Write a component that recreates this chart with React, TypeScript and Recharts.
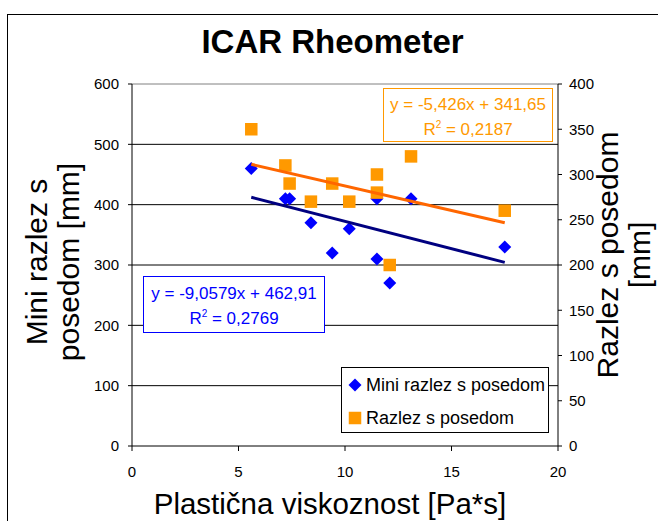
import React from "react";
import {
  ScatterChart,
  Scatter,
  XAxis,
  YAxis,
  CartesianGrid,
  ReferenceLine,
} from "recharts";

// Plastična viskoznost [Pa*s]
const miniX = [5.6, 7.2, 7.4, 8.4, 9.4, 10.2, 11.5, 11.5, 12.1, 13.1, 17.5];
// Mini razlez s posedom [mm] (left axis)
const miniY = [460, 410, 410, 370, 320, 360, 310, 410, 270, 410, 330];

const razlezX = [5.6, 7.2, 7.4, 8.4, 9.4, 10.2, 11.5, 11.5, 12.1, 13.1, 17.5];
// Razlez s posedom [mm] (right axis)
const razlezY = [350, 310, 290, 270, 290, 270, 300, 280, 200, 320, 260];

// trend line coefficients as printed on the chart
const miniSlope = -9.0579;
const miniIntercept = 462.91;
const razlezSlope = -5.426;
const razlezIntercept = 341.65;

const xTicks = [0, 5, 10, 15, 20];
const leftTicks = [0, 100, 200, 300, 400, 500, 600];
const rightTicks = [0, 50, 100, 150, 200, 250, 300, 350, 400];

const FONT = "'Liberation Sans', Arial, sans-serif";

const miniData = miniX.map((x, i) => ({ x, y: miniY[i] }));
const razlezData = razlezX.map((x, i) => ({ x, y: razlezY[i] }));

const trend = (xs: number[], m: number, b: number) => {
  const lo = Math.min(...xs);
  const hi = Math.max(...xs);
  return [
    { x: lo, y: m * lo + b },
    { x: hi, y: m * hi + b },
  ];
};

const miniTrend = trend(miniX, miniSlope, miniIntercept);
const razlezTrend = trend(razlezX, razlezSlope, razlezIntercept);

const Diamond = (props: any) => {
  const { cx, cy } = props;
  const r = 6.5;
  return (
    <polygon
      points={`${cx},${cy - r} ${cx + r},${cy} ${cx},${cy + r} ${cx - r},${cy}`}
      fill="#0000FF"
    />
  );
};

const Square = (props: any) => {
  const { cx, cy } = props;
  const s = 12.5;
  return <rect x={cx - s / 2} y={cy - s / 2} width={s} height={s} fill="#FF9900" />;
};

const NoDot = () => null;

const tickStyle = { fontSize: 15, fill: "#000", fontFamily: FONT };

export default function App() {
  return (
    <div
      style={{
        position: "absolute",
        left: 0,
        top: 0,
        width: 658,
        height: 521,
        overflow: "hidden",
        background: "#fff",
        fontFamily: FONT,
      }}
    >
      {/* outer chart frame */}
      <div
        style={{
          position: "absolute",
          left: 7,
          top: 14,
          width: 700,
          height: 600,
          borderLeft: "1.5px solid #000",
          borderTop: "1.5px solid #000",
        }}
      />

      <ScatterChart
        width={658}
        height={521}
        margin={{ top: 84, right: 0, bottom: 0, left: 0 }}
        style={{ position: "absolute", left: 0, top: 0 }}
      >
        <CartesianGrid
          yAxisId="left"
          vertical={false}
          stroke="#000"
          horizontalValues={[100, 200, 300, 400, 500]}
        />
        <ReferenceLine yAxisId="left" y={600} stroke="#808080" />
        <XAxis
          type="number"
          dataKey="x"
          domain={[0, 20]}
          ticks={xTicks}
          height={75}
          tick={tickStyle}
          tickSize={5}
          tickMargin={15}
          stroke="#000"
          allowDataOverflow
        />
        <YAxis
          yAxisId="left"
          type="number"
          dataKey="y"
          domain={[0, 600]}
          ticks={leftTicks}
          width={132}
          tick={tickStyle}
          tickSize={4}
          tickMargin={9}
          stroke="#000"
        />
        <YAxis
          yAxisId="right"
          orientation="right"
          type="number"
          dataKey="y"
          domain={[0, 400]}
          ticks={rightTicks}
          width={100}
          tick={{ ...tickStyle, textAnchor: "start" }}
          tickSize={4}
          tickMargin={7}
          stroke="#000"
        />
        <Scatter
          yAxisId="left"
          name="Mini razlez s posedom"
          data={miniData}
          shape={<Diamond />}
          isAnimationActive={false}
        />
        <Scatter
          yAxisId="right"
          name="Razlez s posedom"
          data={razlezData}
          shape={<Square />}
          isAnimationActive={false}
        />
        <Scatter
          yAxisId="left"
          data={miniTrend}
          line={{ stroke: "#000080", strokeWidth: 3 }}
          shape={<NoDot />}
          isAnimationActive={false}
        />
        <Scatter
          yAxisId="right"
          data={razlezTrend}
          line={{ stroke: "#FF6600", strokeWidth: 3 }}
          shape={<NoDot />}
          isAnimationActive={false}
        />
      </ScatterChart>

      {/* title */}
      <div
        style={{
          position: "absolute",
          left: 0,
          width: 665,
          top: 23,
          textAlign: "center",
          fontSize: 33,
          fontWeight: "bold",
          lineHeight: "38px",
        }}
      >
        ICAR Rheometer
      </div>

      {/* left axis title */}
      <div
        style={{
          position: "absolute",
          left: 53,
          top: 262,
          width: 260,
          transform: "translate(-50%, -50%) rotate(-90deg)",
          textAlign: "center",
          fontSize: 30,
          lineHeight: "32px",
        }}
      >
        Mini razlez s<br />posedom [mm]
      </div>

      {/* right axis title */}
      <div
        style={{
          position: "absolute",
          left: 624,
          top: 255,
          width: 260,
          transform: "translate(-50%, -50%) rotate(-90deg)",
          textAlign: "center",
          fontSize: 30,
          lineHeight: "32px",
        }}
      >
        Razlez s posedom<br />[mm]
      </div>

      {/* x axis title */}
      <div
        style={{
          position: "absolute",
          left: 130,
          width: 400,
          top: 487,
          textAlign: "center",
          fontSize: 29.5,
          lineHeight: "34px",
        }}
      >
        Plastična viskoznost [Pa*s]
      </div>

      {/* trend equation, orange */}
      <div
        style={{
          position: "absolute",
          left: 383,
          top: 88,
          width: 170,
          height: 54,
          border: "1px solid #FF9900",
          background: "#fff",
          color: "#FF9900",
          fontSize: 17,
          lineHeight: "25px",
          textAlign: "center",
          paddingTop: 3,
          boxSizing: "border-box",
        }}
      >
        y = -5,426x + 341,65
        <br />
        R<sup style={{ fontSize: 10, verticalAlign: 7, lineHeight: 0 }}>2</sup> = 0,2187
      </div>

      {/* trend equation, blue */}
      <div
        style={{
          position: "absolute",
          left: 143,
          top: 276,
          width: 182,
          height: 57,
          border: "1px solid #0000FF",
          background: "#fff",
          color: "#0000FF",
          fontSize: 17,
          lineHeight: "25px",
          textAlign: "center",
          paddingTop: 4,
          boxSizing: "border-box",
        }}
      >
        y = -9,0579x + 462,91
        <br />
        R<sup style={{ fontSize: 10, verticalAlign: 7, lineHeight: 0 }}>2</sup> = 0,2769
      </div>

      {/* legend */}
      <div
        style={{
          position: "absolute",
          left: 341,
          top: 367,
          width: 208,
          height: 66,
          border: "1px solid #000",
          background: "#fff",
          boxSizing: "border-box",
          fontSize: 18,
        }}
      >
        <div style={{ position: "absolute", left: 5, top: 6, display: "flex", alignItems: "center" }}>
          <svg width={16} height={16}>
            <polygon points="8,1.5 14.5,8 8,14.5 1.5,8" fill="#0000FF" />
          </svg>
          <span style={{ marginLeft: 3, lineHeight: "22px" }}>Mini razlez s posedom</span>
        </div>
        <div style={{ position: "absolute", left: 5, top: 39, display: "flex", alignItems: "center" }}>
          <svg width={16} height={16}>
            <rect x={1.75} y={1.75} width={12.5} height={12.5} fill="#FF9900" />
          </svg>
          <span style={{ marginLeft: 3, lineHeight: "22px" }}>Razlez s posedom</span>
        </div>
      </div>
    </div>
  );
}
